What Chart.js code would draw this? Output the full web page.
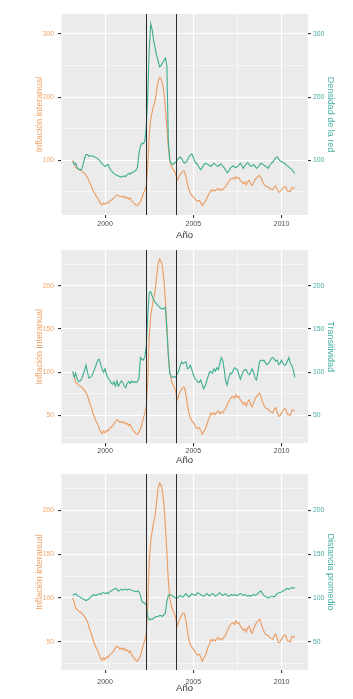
<!DOCTYPE html>
<html>
<head>
<meta charset="utf-8">
<script src="https://cdn.jsdelivr.net/npm/chart.js@4.4.1/dist/chart.umd.min.js"></script>
<style>
  body { margin: 0; background: #fff; }
  #wrap { position: relative; width: 353px; height: 699px; }
  canvas { position: absolute; left: 0; }
</style>
</head>
<body>
<div id="wrap">
  <canvas id="panel1" width="353" height="242" style="top:0px"></canvas>
  <canvas id="panel2" width="353" height="224" style="top:242px"></canvas>
  <canvas id="panel3" width="353" height="233" style="top:466px"></canvas>
</div>
<script>
// Monthly series, March 1998 to October 2010
const firstYear = 1998;
const firstMonth = 2; // 0 = January

// Inflación interanual (same series in the three panels)
const inflacion = [
  100, 95, 88, 87, 85, 84, 83, 81, 79, 76,
  73, 67, 62, 57, 51, 47, 43, 40, 35, 31,
  29, 32, 30, 33, 32, 35, 36, 38, 40, 43,
  45, 44, 42, 43, 41, 43, 40, 41, 38, 40,
  36, 33, 31, 29, 28, 31, 34, 40, 47, 52,
  60, 90, 140, 165, 176, 186, 194, 210, 224, 231,
  229, 222, 207, 182, 153, 120, 100, 91, 86, 83,
  78, 68, 73, 77, 80, 83, 82, 74, 62, 53,
  47, 44, 42, 39, 36, 35, 36, 33, 28, 31,
  34, 38, 44, 48, 53, 51, 53, 51, 54, 55,
  52, 54, 53, 56, 58, 62, 66, 69, 71, 72,
  70, 74, 71, 72, 68, 66, 63, 65, 61, 66,
  68, 62, 60, 65, 69, 72, 74, 76, 72, 66,
  62, 59, 58, 57, 55, 54, 53, 57, 59, 54,
  49, 50, 53, 56, 58, 57, 51, 51, 50, 56,
  56, 55
];

// Densidad de la red
const densidad = [
  98, 93, 95, 88, 86, 85, 85, 93, 103, 109,
  109, 106, 107, 107, 106, 105, 104, 102, 100, 97,
  94, 92, 90, 92, 93, 88, 84, 81, 79, 77,
  76, 75, 74, 73, 74, 75, 74, 77, 79, 78,
  80, 81, 82, 84, 88, 110, 122, 127, 126, 130,
  153, 200, 275, 316, 307, 290, 278, 266, 258, 248,
  250, 254, 258, 262, 250, 130, 100, 95, 93, 95,
  97, 100, 103, 105, 103, 98, 95, 97, 100, 105,
  108, 110, 105, 98, 95, 93, 88, 85, 88, 92,
  95, 94, 93, 91, 90, 93, 95, 93, 91, 90,
  93, 94, 90, 88, 84, 80, 82, 87, 89, 91,
  89, 88, 90, 92, 95, 91, 87, 91, 94, 96,
  93, 90, 91, 93, 90, 87, 89, 92, 95, 94,
  92, 90, 89, 87, 92, 95, 97, 100, 104, 105,
  102, 99, 98, 96, 95, 93, 91, 89, 87, 85,
  82, 79
];

// Transitividad
const transitividad = [
  101, 94, 99, 92, 89, 90, 92, 97, 102, 108,
  100, 93, 94, 96, 100, 104, 109, 114, 115, 109,
  103, 100, 104, 97, 93, 91, 88, 86, 89, 84,
  90, 84, 87, 90, 88, 84, 82, 87, 89, 87,
  90, 88, 89, 88, 89, 93, 117, 115, 114, 118,
  130, 165, 192, 193, 188, 184, 181, 179, 177, 175,
  174, 173, 174, 175, 150, 120, 98, 95, 94, 95,
  94, 98, 101, 107, 112, 110, 111, 112, 104, 105,
  108, 103, 97, 93, 91, 89, 88, 91, 86, 81,
  84, 89, 95, 100, 101, 99, 104, 101, 105, 103,
  110, 117, 114, 103, 90, 85, 93, 99, 98, 102,
  105, 104, 103, 97, 92, 97, 101, 103, 103, 99,
  97, 100, 104, 100, 93, 91, 101, 112, 114, 113,
  114, 111, 109, 110, 112, 116, 117, 115, 113, 114,
  109, 110, 114, 110, 108, 109, 113, 117, 110, 108,
  103, 94
];

// Distancia promedio
const distancia = [
  103, 104, 105, 103, 102, 101, 100, 99, 98, 97,
  98, 99, 101, 102, 104, 103, 103, 104, 105, 104,
  106, 106, 105, 106, 105, 107, 108, 109, 110, 111,
  110, 108, 109, 110, 109, 110, 110, 109, 110, 110,
  109, 108, 108, 107, 108, 107, 103, 96, 95, 94,
  92, 79, 75, 76, 76, 77, 78, 79, 79, 80,
  80, 79, 81, 83, 96, 103, 104, 103, 102, 101,
  100, 100, 101, 103, 102, 101, 103, 105, 103, 101,
  103, 105, 104, 103, 104, 106, 105, 104, 103, 102,
  103, 105, 104, 102, 104, 105, 104, 102, 103, 105,
  106, 104, 103, 104, 105, 103, 102, 103, 104, 103,
  104, 103, 103, 104, 105, 104, 103, 104, 103, 102,
  103, 102, 103, 104, 103, 104, 105, 107, 108, 105,
  103, 102, 101, 100, 101, 102, 102, 101, 103, 105,
  106, 106, 107, 108, 109, 110, 111, 110, 111, 112,
  111, 112
];

const fechas = inflacion.map((_, i) => firstYear + (firstMonth + i) / 12);

// Vertical reference lines (years)
const eventos = [2002.33, 2004.0];

// Tick labels
const xTicks = [1997.5, 2000, 2002.5, 2005, 2007.5, 2010];
const xMajor = [2000, 2005, 2010];
const yTicksDens = [50, 100, 150, 200, 250, 300];
const yMajorDens = [100, 200, 300];
const yTicksRest = [25, 50, 75, 100, 125, 150, 175, 200, 225];
const yMajorRest = [50, 100, 150, 200];

const naranja = '#EC9A5E';
const naranjaTxt = '#EFA468';
const verde = '#3AAD90';
const verdeTxt = '#45AEA2';
const font = 'Liberation Sans, Arial, sans-serif';

// grey panel behind the lines
const panelBg = {
  id: 'panelBg',
  beforeDraw(chart) {
    const { ctx, chartArea: a } = chart;
    ctx.save();
    ctx.fillStyle = '#EBEBEB';
    ctx.fillRect(a.left, a.top, a.right - a.left, a.bottom - a.top);
    ctx.restore();
  }
};

// black vertical lines
const eventLines = {
  id: 'eventLines',
  afterDatasetsDraw(chart) {
    const { ctx, chartArea: a, scales } = chart;
    ctx.save();
    ctx.strokeStyle = '#2B2B2B';
    ctx.lineWidth = 1;
    eventos.forEach(year => {
      const x = Math.round(scales.x.getPixelForValue(year)) + 0.5;
      ctx.beginPath();
      ctx.moveTo(x, a.top);
      ctx.lineTo(x, a.bottom);
      ctx.stroke();
    });
    ctx.restore();
  }
};

function yAxis(p, position, color, title, titlePad) {
  const left = position === 'left';
  return {
    type: 'linear',
    position: position,
    display: true,
    min: p.yMin,
    max: p.yMax,
    afterBuildTicks: scale => { scale.ticks = p.yTicks.map(v => ({ value: v })); },
    afterFit: scale => { scale.width = left ? 61 : 45; },
    border: { display: false },
    grid: {
      drawOnChartArea: left,
      color: '#FFFFFF',
      lineWidth: ctx => p.yMajor.includes(ctx.tick.value) ? 1.1 : 0.5,
      tickLength: 3,
      tickColor: ctx => p.yMajor.includes(ctx.tick.value) ? '#333333' : 'rgba(0,0,0,0)'
    },
    ticks: {
      color: color,
      padding: left ? 4 : 2,
      font: { family: font, size: 6.8 },
      callback: v => p.yMajor.includes(v) ? String(v) : ''
    },
    title: {
      display: true,
      text: title,
      color: color,
      font: { family: font, size: 9 },
      padding: { top: titlePad, bottom: 0 }
    }
  };
}

function makePanel(id, p) {
  return new Chart(document.getElementById(id), {
    type: 'line',
    data: {
      datasets: [{
        label: p.label,
        data: p.serie.map((v, i) => ({ x: fechas[i], y: v })),
        borderColor: verde,
        borderWidth: 1.1,
        pointRadius: 0,
        tension: 0,
        yAxisID: 'y1'
      }, {
        label: 'Inflación interanual',
        data: inflacion.map((v, i) => ({ x: fechas[i], y: v })),
        borderColor: naranja,
        borderWidth: 1.1,
        pointRadius: 0,
        tension: 0,
        yAxisID: 'y'
      }]
    },
    options: {
      responsive: false,
      animation: false,
      devicePixelRatio: 1,
      layout: { padding: { top: p.padTop, bottom: p.padBottom, left: 0, right: 0 } },
      plugins: { legend: { display: false }, tooltip: { enabled: false } },
      scales: {
        x: {
          type: 'linear',
          min: 1997.5,
          max: 2011.5,
          afterBuildTicks: scale => { scale.ticks = xTicks.map(v => ({ value: v })); },
          afterFit: scale => { scale.height = p.xHeight; },
          border: { display: false },
          grid: {
            color: '#FFFFFF',
            lineWidth: ctx => xMajor.includes(ctx.tick.value) ? 1.1 : 0.5,
            tickLength: 3,
            tickColor: ctx => xMajor.includes(ctx.tick.value) ? '#333333' : 'rgba(0,0,0,0)'
          },
          ticks: {
            color: '#4D4D4D',
            padding: p.xTickPad,
            maxRotation: 0,
            font: { family: font, size: 7 },
            callback: v => xMajor.includes(v) ? String(v) : ''
          },
          title: {
            display: true,
            text: 'Año',
            color: '#333333',
            font: { family: font, size: 9.5 },
            padding: { top: 0, bottom: p.xTitlePad }
          }
        },
        y: yAxis(p, 'left', naranjaTxt, 'Inflación interanual', 34.6),
        y1: yAxis(p, 'right', verdeTxt, p.label, 17.6)
      }
    },
    plugins: [panelBg, eventLines]
  });
}

makePanel('panel1', {
  serie: densidad, label: 'Densidad de la red',
  yMin: 13, yMax: 331.7, yTicks: yTicksDens, yMajor: yMajorDens,
  padTop: 14, padBottom: 0, xHeight: 27, xTickPad: 1.8, xTitlePad: 1.3
});

makePanel('panel2', {
  serie: transitividad, label: 'Transitividad',
  yMin: 17.8, yMax: 241.2, yTicks: yTicksRest, yMajor: yMajorRest,
  padTop: 2, padBottom: 0, xHeight: 22.7, xTickPad: 0.3, xTitlePad: 0.3
});

makePanel('panel3', {
  serie: distancia, label: 'Distancia promedio',
  yMin: 18, yMax: 241.2, yTicks: yTicksRest, yMajor: yMajorRest,
  padTop: 5.7, padBottom: 0, xHeight: 29, xTickPad: 4.5, xTitlePad: 4.8
});
</script>
</body>
</html>
